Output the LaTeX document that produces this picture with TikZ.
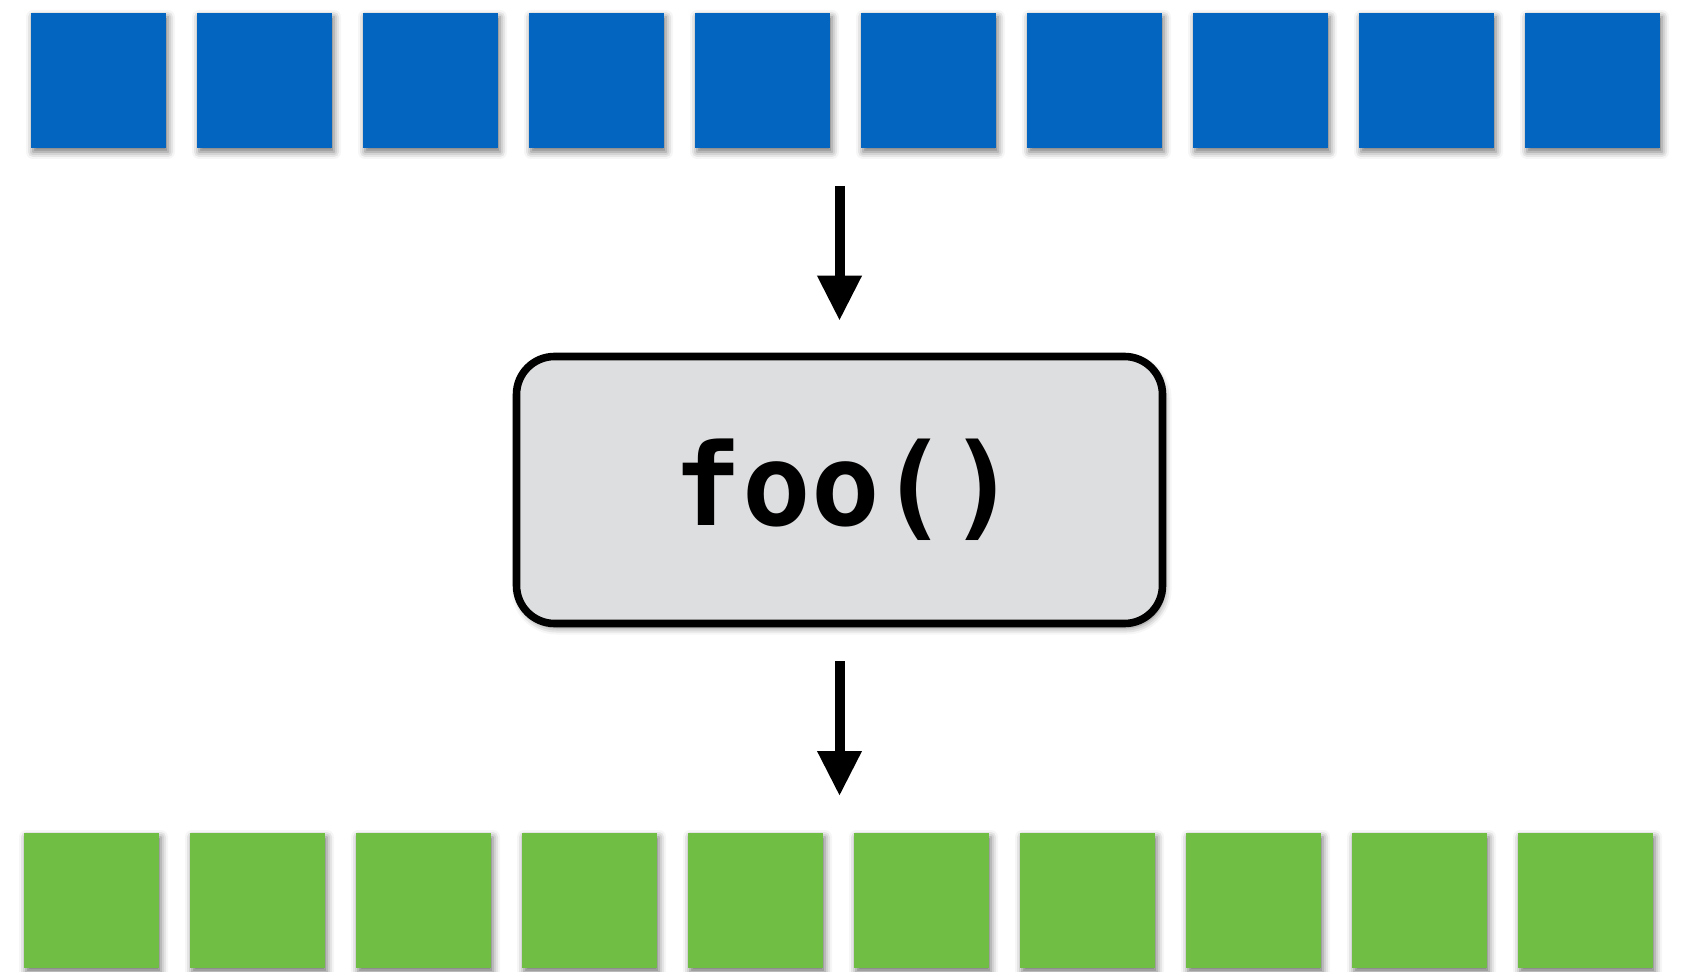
\documentclass[tikz,border=0pt]{standalone}
\usepackage{fontspec}
\setmonofont{DejaVu Sans Mono}
\usetikzlibrary{arrows.meta,shadows.blur}
\definecolor{cellblue}{RGB}{4,101,192}
\definecolor{cellgreen}{RGB}{113,190,68}
\definecolor{boxgray}{RGB}{221,222,224}
\tikzset{
    cell/.style={minimum size=67.5pt, inner sep=0pt, outer sep=0pt,
        blur shadow={shadow xshift=1pt, shadow yshift=-2pt, shadow blur radius=3.5pt, shadow opacity=55}},
    funcbox/.style={draw=black, line width=3.8pt, fill=boxgray, rounded corners=19pt,
        minimum width=323pt, minimum height=133.5pt, inner sep=0pt,
        blur shadow={shadow xshift=1pt, shadow yshift=-2pt, shadow blur radius=3.5pt, shadow opacity=55},
        font=\ttfamily\bfseries\fontsize{57}{62}\selectfont},
    flow/.style={line width=5pt, -{Triangle[length=22.5pt, width=21pt]}}
}
\begin{document}
\begin{tikzpicture}[x=0.5pt, y=-0.5pt]
        \useasboundingbox (0,0) rectangle (1690,972);
        % input row
        \foreach \i in {0,...,9}
            \node[cell, fill=cellblue] (b\i) at ({98.5+166*\i},80.5) {};
        % the function
        \node[funcbox] (box) at (839.5,490) {\hspace*{6pt}foo()};
        % output row
        \foreach \i in {0,...,9}
            \node[cell, fill=cellgreen] (g\i) at ({91.5+166*\i},900.5) {};
        \draw[flow, shorten <=19pt, shorten >=16pt] (box.north |- b4.south) -- (box.north);
        \draw[flow, shorten <=17pt, shorten >=18.5pt] (box.south) -- (box.south |- g4.north);
    \end{tikzpicture}
\end{document}
